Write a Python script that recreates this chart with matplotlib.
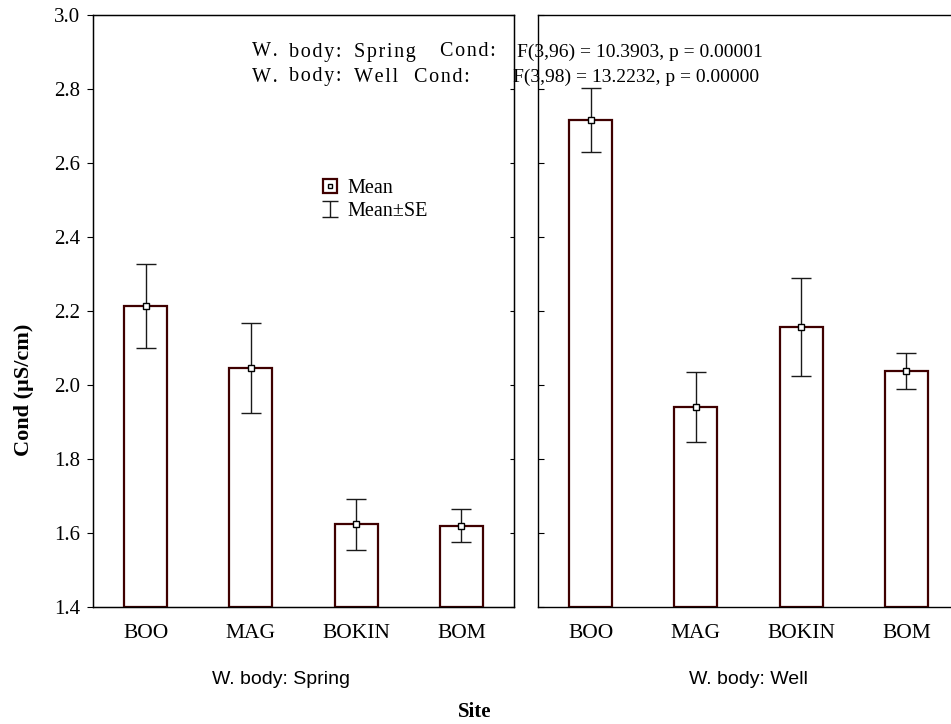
import matplotlib
matplotlib.use("Agg")
from matplotlib import pyplot as plt
from matplotlib.lines import Line2D
from matplotlib.path import Path
from matplotlib.legend_handler import HandlerTuple

sites = ["BOO", "MAG", "BOKIN", "BOM"]
spring_mean = [2.214, 2.046, 1.623, 1.620]
spring_se = [0.113, 0.122, 0.070, 0.045]
well_mean = [2.716, 1.940, 2.157, 2.037]
well_se = [0.087, 0.095, 0.132, 0.049]

yticks = [1.4, 1.6, 1.8, 2.0, 2.2, 2.4, 2.6, 2.8, 3.0]
ytick_labels = ["1.4", "1.6", "1.8", "2.0", "2.2", "2.4", "2.6", "2.8", "3.0"]

# anova lines, split in words as the original spaces them out
anova_words = [
    [("W.", 252), ("body:", 289), ("Spring", 354), ("Cond:", 440)],
    [("W.", 252), ("body:", 289), ("Well", 354), ("Cond:", 414)],
]
anova_stats = [("F(3,96) = 10.3903, p = 0.00001", 517),
               ("F(3,98) = 13.2232, p = 0.00000", 513)]

serif = "Liberation Serif"
sans = "Liberation Sans"
plt.rcParams['font.family'] = serif

bar_edge = "#3f0000"
gap = "\u200a"

fig = plt.figure(figsize=(9.51, 7.24), dpi=100)
ax1 = fig.add_axes([93 / 951, 1 - 607 / 724, 421 / 951, 592 / 724])
ax2 = fig.add_axes([538 / 951, 1 - 607 / 724, 421 / 951, 592 / 724])

x = list(range(len(sites)))


def draw_panel(ax, means, ses):
    heights = [m - 1.4 for m in means]
    ax.bar(x, heights, bottom=1.4, width=0.41, facecolor="white",
           edgecolor=bar_edge, linewidth=1.6, zorder=2)
    ax.errorbar(x, means, yerr=ses, fmt="none", ecolor="#1a1a1a",
                elinewidth=1.0, capsize=7.5, capthick=1.0, zorder=3)
    ax.plot(x, means, linestyle="none", marker="s", markersize=4,
            markerfacecolor="white", markeredgecolor="black",
            markeredgewidth=1.0, zorder=4)
    ax.set_xlim(-0.5, 3.5)
    ax.set_ylim(1.4, 3.0)
    ax.set_xticks(x)
    ax.set_xticklabels(sites, fontsize=15.5)
    ax.tick_params(axis="x", direction="in", length=4, pad=12)
    for sp in ax.spines.values():
        sp.set_linewidth(1.0)


draw_panel(ax1, spring_mean, spring_se)
draw_panel(ax2, well_mean, well_se)

ax1.set_yticks(yticks)
ax1.set_yticklabels(ytick_labels, fontsize=15)
ax1.tick_params(axis="y", direction="out", length=4, pad=5)
ax1r = ax1.twinx()
ax1r.set_ylim(1.4, 3.0)
ax1r.set_yticks(yticks)
ax1r.tick_params(axis="y", direction="in", length=3, labelright=False)

ax2.set_yticks(yticks)
ax2.tick_params(axis="y", direction="in", length=4, labelleft=False)

# legend
ibeam = Path([(-0.47, 0.5), (0.47, 0.5), (0, 0.5), (0, -0.5), (-0.47, -0.5), (0.47, -0.5)],
             [Path.MOVETO, Path.LINETO, Path.MOVETO, Path.LINETO, Path.MOVETO, Path.LINETO])
mean_h = (Line2D([], [], linestyle="none", marker="s", markersize=10,
                 markerfacecolor="white", markeredgecolor=bar_edge, markeredgewidth=1.6),
          Line2D([], [], linestyle="none", marker="s", markersize=3.5,
                 markerfacecolor="white", markeredgecolor="black", markeredgewidth=1.0))
se_h = Line2D([], [], linestyle="none", marker=ibeam, markersize=12,
              markerfacecolor="none", markeredgecolor="#1a1a1a", markeredgewidth=1.0)
ax1.legend([mean_h, se_h], ["Mean", "Mean\u00b1SE"],
           handler_map={tuple: HandlerTuple(ndivide=1, pad=0)},
           loc="upper left", bbox_to_anchor=(0.52, 0.736), frameon=False,
           fontsize=14.5, handlelength=1.0, handletextpad=0.35, labelspacing=0.15,
           borderaxespad=0)

for yy, words, stat in zip([52, 77], anova_words, anova_stats):
    for word, xx in words:
        fig.text(xx / 951, 1 - yy / 724, gap.join(word), fontsize=14.5,
                 family=[serif, "DejaVu Serif"], va="center", ha="left")
    fig.text(stat[1] / 951, 1 - yy / 724, stat[0], fontsize=14,
             va="center", ha="left")

fig.text(281 / 951, 1 - 680 / 724, "W. body: Spring", family=sans,
         fontsize=14, ha="center", va="center")
fig.text(748 / 951, 1 - 680 / 724, "W. body: Well", family=sans,
         fontsize=14, ha="center", va="center")
fig.text(475 / 951, 1 - 712 / 724, "Site", fontsize=15, fontweight="bold",
         ha="center", va="center")
fig.text(24 / 951, 1 - 390 / 724, "Cond (\u00b5S/cm)", fontsize=16,
         fontweight="bold", rotation=90, ha="center", va="center")

fig.savefig("out.png", dpi=100)
